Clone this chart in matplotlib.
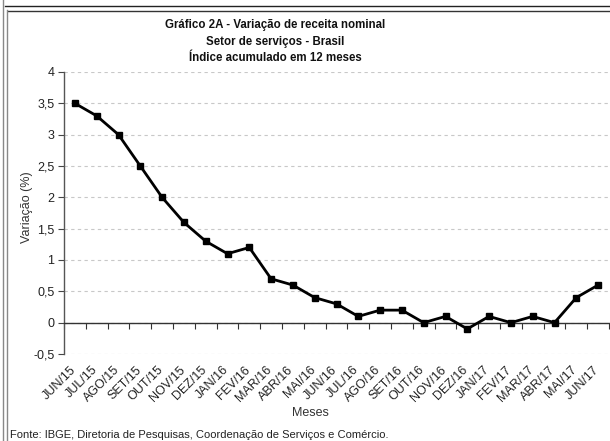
import matplotlib
matplotlib.use("Agg")
import matplotlib.pyplot as plt
from matplotlib.lines import Line2D
import matplotlib.transforms as mtransforms
from matplotlib import font_manager

months = ["JUN/15", "JUL/15", "AGO/15", "SET/15", "OUT/15", "NOV/15", "DEZ/15",
          "JAN/16", "FEV/16", "MAR/16", "ABR/16", "MAI/16", "JUN/16", "JUL/16",
          "AGO/16", "SET/16", "OUT/16", "NOV/16", "DEZ/16", "JAN/17", "FEV/17",
          "MAR/17", "ABR/17", "MAI/17", "JUN/17"]
values = [3.5, 3.3, 3.0, 2.5, 2.0, 1.6, 1.3, 1.1, 1.2, 0.7, 0.6, 0.4, 0.3, 0.1,
          0.2, 0.2, 0.0, 0.1, -0.1, 0.1, 0.0, 0.1, 0.0, 0.4, 0.6]
yticks = [4, 3.5, 3, 2.5, 2, 1.5, 1, 0.5, 0, -0.5]
ytick_labels = ["4", "3,5", "3", "2,5", "2", "1,5", "1", "0,5", "0", "-0,5"]
title_lines = ["Gráfico 2A - Variação de receita nominal",
               "Setor de serviços - Brasil",
               "Índice acumulado em 12 meses"]

names = {f.name for f in font_manager.fontManager.ttflist}
narrow = "Liberation Sans Narrow" if "Liberation Sans Narrow" in names else "Liberation Sans"
base = "Liberation Sans"
tsize = 9.5 if narrow == "Liberation Sans Narrow" else 8.3

W, H = 610, 441
fig = plt.figure(figsize=(W / 100, H / 100), dpi=100)
fig.patch.set_facecolor("white")

ax = fig.add_axes([64 / W, (H - 354) / H, (609 - 64) / W, (354 - 72) / H])
x = list(range(len(months)))
ax.plot(x, values, color="black", lw=2.0, marker="s", ms=4.5, zorder=3)

ax.set_xlim(-0.5, len(months) - 0.5)
ax.set_ylim(-0.5, 4)
ax.set_yticks(yticks)
ax.set_yticklabels(ytick_labels, fontname=base, fontsize=9, color="#222222")
ax.tick_params(axis="y", length=4, width=0.8, color="#444444", pad=3)
ax.grid(axis="y", color="#c8c8c8", linestyle=(0, (3, 3)), lw=0.8)
ax.set_axisbelow(True)

for s in ["top", "right"]:
    ax.spines[s].set_visible(False)
ax.spines["left"].set_color("#555555")
ax.spines["left"].set_linewidth(1.0)
ax.spines["bottom"].set_position(("data", 0))
ax.spines["bottom"].set_color("#333333")
ax.spines["bottom"].set_linewidth(1.0)
bounds = [i + 0.5 for i in range(-1, len(months))]
ax.set_xticks(bounds)
ax.set_xticklabels([])
ax.tick_params(axis="x", length=4, width=0.8, color="#333333", direction="out")

trans = mtransforms.blended_transform_factory(ax.transData, ax.transAxes) + \
    mtransforms.ScaledTranslation(-1 / 100, -14 / 100, fig.dpi_scale_trans)
for i, m in enumerate(months):
    ax.text(i, 0, m, transform=trans, rotation=45, rotation_mode="anchor",
            ha="right", va="center", fontname=base, fontsize=9, color="#222222")

fig.text(27 / W, 1 - 207 / H, "Variação (%)", fontname=base, fontsize=9, color="#333333",
         rotation=90, ha="center", va="center")
fig.text(310 / W, 1 - 413 / H, "Meses", fontname=base, fontsize=9, color="#333333",
         ha="center", va="center")

for k, t in enumerate(title_lines):
    fig.text(275 / W, 1 - (25 + 16.5 * k) / H, t, fontname=narrow, fontsize=tsize,
             fontweight="bold", color="#111111", ha="center", va="center")

fig.text(10 / W, 1 - 435 / H, "Fonte: IBGE, Diretoria de Pesquisas, Coordenação de Serviços e Comércio.",
         fontname=base, fontsize=8, color="#222222", ha="left", va="center")

# screenshot frame lines
fig.add_artist(Line2D([5 / W, 1], [1 - 6 / H] * 2, color="#222222", lw=1.0))
fig.add_artist(Line2D([8 / W, 1], [1 - 11 / H] * 2, color="#333333", lw=1.0))
fig.add_artist(Line2D([3 / W] * 2, [0, 1], color="#888888", lw=1.0))
fig.add_artist(Line2D([7 / W] * 2, [0, 1 - 10 / H], color="#888888", lw=1.0))

fig.savefig("out.png", dpi=100)
